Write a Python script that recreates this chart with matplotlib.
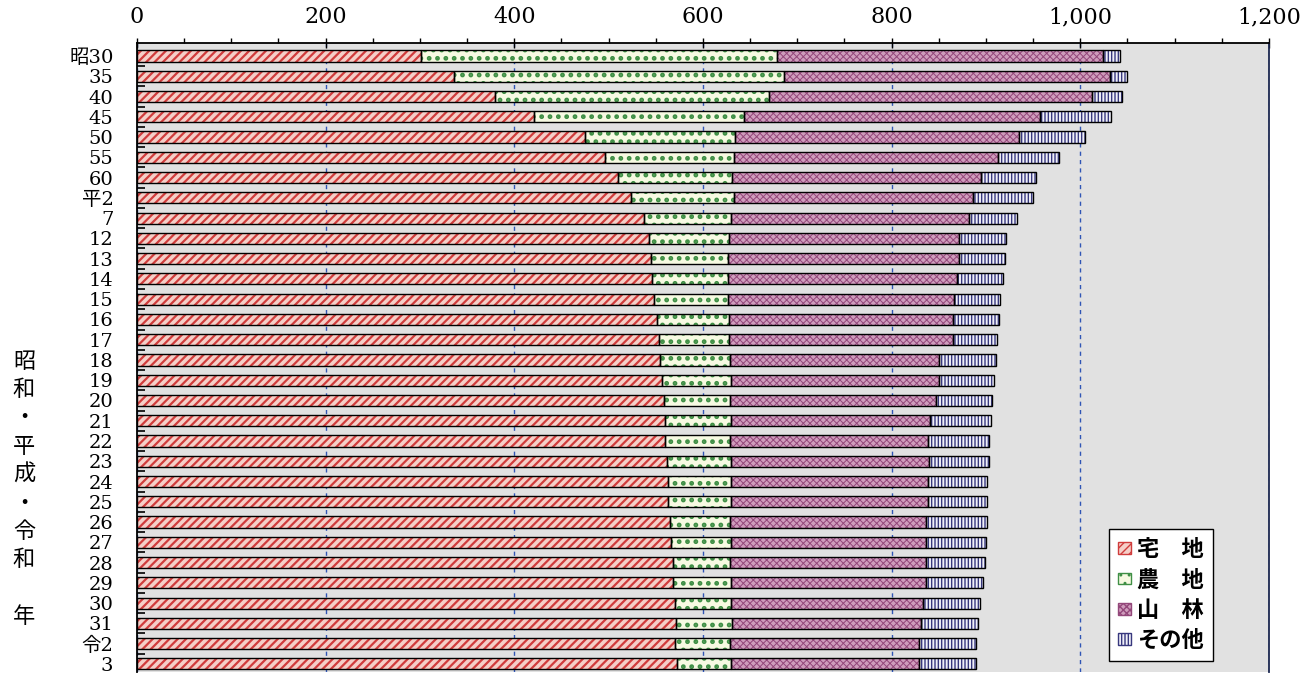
import numpy as np
import matplotlib
matplotlib.use('Agg')
import matplotlib.pyplot as plt
from matplotlib.patches import Patch
from matplotlib.ticker import FuncFormatter, MultipleLocator

# ---- data (units as on the x axis) ----
years = ['昭30', '35', '40', '45', '50', '55', '60', '平2', '7',
         '12', '13', '14', '15', '16', '17', '18', '19', '20', '21',
         '22', '23', '24', '25', '26', '27', '28', '29', '30', '31',
         '令2', '3']
takuchi = [301, 336, 380, 421, 475, 496, 510, 524, 538, 543, 545, 546, 548,
           551, 553, 555, 557, 559, 560, 560, 562, 563, 563, 565, 566, 568,
           568, 570, 571, 570, 572]
nouchi = [377, 350, 290, 223, 159, 137, 121, 109, 92, 85, 82, 81, 79, 77, 75,
          74, 73, 70, 70, 69, 68, 67, 67, 64, 64, 61, 62, 60, 60, 59, 58]
sanrin = [346, 346, 343, 313, 301, 280, 264, 253, 252, 244, 244, 242, 239,
          237, 237, 221, 220, 218, 211, 210, 210, 209, 209, 208, 207, 207,
          206, 203, 200, 200, 199]
sonota = [18, 18, 31, 76, 70, 64, 58, 64, 51, 49, 49, 49, 49, 49, 47, 61, 59,
          59, 64, 64, 63, 62, 62, 64, 63, 63, 61, 61, 61, 60, 60]
names = ['宅\u3000地', '農\u3000地', '山\u3000林', 'その他']
ylabel_chars = ['昭', '和', '・', '平', '成', '・', '令', '和', '', '年']

# face colour, hatch colour, hatch, hatch linewidth
styles = [('#f5cfc8', '#d03c3c', '////', 1.6),
          ('#f7fae2', '#3f8f45', '..', 2.2),
          ('#cf9cbc', '#93477a', 'xxxxx', 0.7),
          ('#f0f0f8', '#38387e', '|||||', 1.0)]

serif = ['DejaVu Serif', 'Noto Sans CJK JP']
sans = ['Noto Sans CJK JP', 'DejaVu Sans']

fig = plt.figure(figsize=(13.01, 6.73), dpi=100)
ax = fig.add_axes([0.1053, 0.0015, 0.8700, 0.9346])
ax.set_facecolor('#e1e1e1')

y = np.arange(len(years))
series = [takuchi, nouchi, sanrin, sonota]
left = np.zeros(len(years))
bh = 0.55
for vals, (fc, hc, hat, hlw) in zip(series, styles):
    vals = np.array(vals, dtype=float)
    with plt.rc_context({'hatch.linewidth': hlw}):
        ax.barh(y, vals, left=left, height=bh, color=fc, edgecolor=hc,
                hatch=hat, linewidth=0, zorder=2)
    ax.barh(y, vals, left=left, height=bh, fill=False, edgecolor='black',
            linewidth=1.0, zorder=3)
    left += vals

ax.set_xlim(0, 1200)
ax.set_ylim(len(years) - 0.6, -0.64)

# x axis on top
ax.xaxis.tick_top()
ax.xaxis.set_major_locator(MultipleLocator(200))
ax.xaxis.set_minor_locator(MultipleLocator(50))
ax.xaxis.set_major_formatter(FuncFormatter(lambda v, p: f'{int(v):,}'))
ax.tick_params(axis='x', which='major', direction='inout', length=7,
               width=1, pad=7, labelsize=16)
ax.tick_params(axis='x', which='minor', direction='out', length=3.6, width=1)
for t in ax.get_xticklabels():
    t.set_family(serif)

# y axis: labels on rows, small inward ticks between rows
ax.set_yticks(y)
ax.set_yticklabels(years, family=serif, fontsize=14)
ax.set_yticks(y[:-1] + 0.5, minor=True)
ax.tick_params(axis='y', which='major', length=0, pad=17)
ax.tick_params(axis='y', which='minor', direction='in', length=6, width=1.2)
for t in ax.get_yticklabels():
    t.set_verticalalignment('center_baseline')

ax.grid(axis='x', which='major', color='#2f55b5', linestyle=(0, (3, 3)),
        linewidth=1, zorder=1)
ax.set_axisbelow(True)

for s in ['left', 'top']:
    ax.spines[s].set_color('black')
    ax.spines[s].set_linewidth(1.3)
ax.spines['right'].set_color('#1c2850')
ax.spines['right'].set_linewidth(1.3)
ax.spines['bottom'].set_visible(False)

# vertical axis title, one character per line
y0 = 1 - 361 / 673
step = 28.4 / 673
for i, ch in enumerate(ylabel_chars):
    if ch:
        fig.text(24 / 1301, y0 - i * step, ch, family=sans, fontsize=16,
                 ha='center', va='center')

handles = [Patch(facecolor=fc, edgecolor=hc, hatch=hat)
           for fc, hc, hat, hlw in styles]
leg = ax.legend(handles, names, loc='lower right',
                bbox_to_anchor=(0.9505, 0.0175), borderaxespad=0,
                prop={'family': sans, 'size': 16, 'weight': 'bold'},
                handlelength=0.55, handleheight=0.45, handletextpad=0.3,
                labelspacing=0.33, borderpad=0.4, fancybox=False,
                framealpha=1, edgecolor='black')
leg.get_frame().set_linewidth(1.0)

fig.savefig('out.png', dpi=100)
